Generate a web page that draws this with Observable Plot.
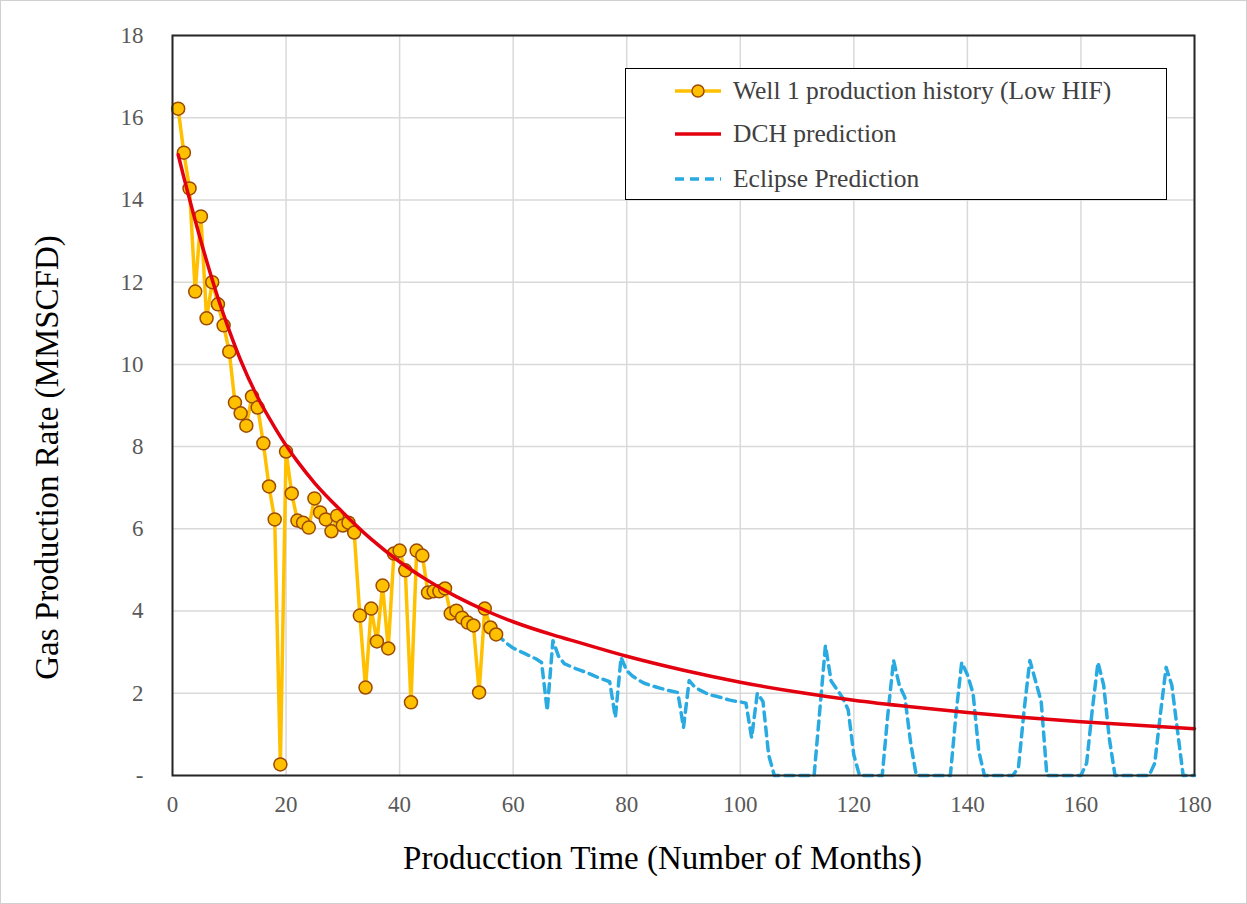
<!DOCTYPE html>
<html>
<head>
<meta charset="utf-8">
<script src="https://cdn.jsdelivr.net/npm/d3@7"></script>
<script src="https://cdn.jsdelivr.net/npm/@observablehq/plot@0.6"></script>
<style>
  html, body { margin: 0; padding: 0; background: #fff; }
  #wrap { position: relative; width: 1247px; height: 904px; }
  #legend { position: absolute; left: 625px; top: 68px; width: 540px; height: 130px;
    border: 1.5px solid #000; background: #fff; font-family: "Liberation Serif", serif;
    font-size: 25.5px; color: #404040; }
  .row { position: absolute; left: 48px; height: 30px; display: flex; align-items: center; white-space: nowrap; }
  .row svg { margin-right: 11px; }
  #frameborder { position: absolute; left: 0; top: 0; width: 1245px; height: 902px; border: 1px solid #d0d0d0; pointer-events: none; }
</style>
</head>
<body>
<div id="wrap">
  <div id="chart"></div>
  <div id="legend">
    <div class="row" style="top:7px">
      <svg width="48" height="20"><line x1="1" y1="10" x2="47" y2="10" stroke="#FFC000" stroke-width="3.5"/><circle cx="24" cy="10" r="6" fill="#FFC000" stroke="#9C4A00" stroke-width="1.5"/></svg>
      <span>Well 1 production history (Low HIF)</span>
    </div>
    <div class="row" style="top:50px">
      <svg width="48" height="20"><line x1="1" y1="10" x2="47" y2="10" stroke="#E3000F" stroke-width="3.5"/></svg>
      <span>DCH prediction</span>
    </div>
    <div class="row" style="top:95px">
      <svg width="48" height="20"><line x1="1" y1="10" x2="47" y2="10" stroke="#29ABE2" stroke-width="3.5" stroke-dasharray="9,6"/></svg>
      <span>Eclipse Prediction</span>
    </div>
  </div>
  <div id="frameborder"></div>
</div>
<script>
// Well 1 production history (month, MMSCFD)
const histMonths = d3.range(1, 58);
const histRates = [
  16.22, 15.15, 14.28, 11.77, 13.60, 11.12, 12.00, 11.46, 10.95, 10.31,
  9.07, 8.81, 8.51, 9.22, 8.95, 8.08, 7.03, 6.23, 0.27, 7.88,
  6.86, 6.20, 6.15, 6.03, 6.74, 6.40, 6.23, 5.94, 6.32, 6.08,
  6.15, 5.91, 3.89, 2.14, 4.06, 3.26, 4.62, 3.09, 5.40, 5.47,
  4.99, 1.78, 5.47, 5.35, 4.45, 4.48, 4.48, 4.55, 3.94, 4.01,
  3.84, 3.72, 3.65, 2.02, 4.06, 3.60, 3.43
];

// DCH prediction (month, MMSCFD)
const dchMonths = [1, 2, 3, 4, 5, 6, 8, 10, 12, 15, 18, 20, 22, 25, 30, 35, 40, 45, 50, 55, 60, 67, 70, 80, 90, 100, 110, 120, 130, 140, 150, 160, 170, 180];
const dchRates  = [15.1, 14.55, 14.02, 13.5, 13.0, 12.52, 11.62, 10.82, 10.1, 9.2, 8.47, 8.03, 7.64, 7.12, 6.4, 5.75, 5.2, 4.74, 4.35, 4.02, 3.74, 3.42, 3.3, 2.9, 2.56, 2.27, 2.03, 1.83, 1.67, 1.53, 1.41, 1.31, 1.22, 1.14];

// Eclipse prediction (month 57..180, MMSCFD)
const eclMonths = d3.range(57, 181);
const eclRates = [
  3.43, 3.32, 3.20, 3.10, 3.03, 2.97, 2.90, 2.84, 2.75, 1.58,   // 57-66
  3.28, 2.90, 2.72, 2.66, 2.60, 2.55, 2.50, 2.44, 2.38, 2.33,   // 67-76
  2.28, 1.41, 2.87, 2.55, 2.42, 2.33, 2.25, 2.20, 2.16, 2.12,   // 77-86
  2.08, 2.05, 2.02, 1.17, 2.31, 2.15, 2.07, 2.00, 1.95, 1.92,   // 87-96
  1.88, 1.84, 1.81, 1.79, 1.76, 0.92, 2.00, 1.80, 0.50, 0.00,   // 97-106
  0, 0, 0, 0, 0, 0, 0, 1.58, 3.16, 2.30,                        // 107-116
  2.10, 1.90, 1.60, 0.50, 0, 0, 0, 0, 0, 1.50,                  // 117-126
  2.80, 2.20, 1.90, 0.80, 0, 0, 0, 0, 0, 0,                     // 127-136
  0, 1.50, 2.75, 2.45, 2.00, 0.60, 0, 0, 0, 0,                  // 137-146
  0, 0, 0.20, 1.60, 2.80, 2.30, 1.80, 0, 0, 0,                  // 147-156
  0, 0, 0, 0, 0.30, 1.60, 2.75, 2.20, 0.90, 0,                  // 157-166
  0, 0, 0, 0, 0, 0, 0.30, 1.50, 2.63, 2.20,                     // 167-176
  1.10, 0, 0, 0                                                 // 177-180
];

const xTicks = [0, 20, 40, 60, 80, 100, 120, 140, 160, 180];
const yTicks = [0, 2, 4, 6, 8, 10, 12, 14, 16, 18];
const xTitle = "Producction Time (Number of Months)";
const yTitle = "Gas Production Rate (MMSCFD)";

const hist = histMonths.map((m, i) => ({m, v: histRates[i]}));
const dch = dchMonths.map((m, i) => ({m, v: dchRates[i]}));
const ecl = eclMonths.map((m, i) => ({m, v: eclRates[i]}));

const chart = Plot.plot({
  width: 1247,
  height: 904,
  marginLeft: 172,
  marginRight: 53,
  marginTop: 35,
  marginBottom: 129,
  style: { fontFamily: "'Liberation Serif', serif", fontSize: "23px", background: "#fff" },
  x: { domain: [0, 180] },
  y: { domain: [0, 18] },
  marks: [
    Plot.gridX(xTicks, { stroke: "#d9d9d9", strokeOpacity: 1, strokeWidth: 1.5 }),
    Plot.gridY(yTicks, { stroke: "#d9d9d9", strokeOpacity: 1, strokeWidth: 1.5 }),
    Plot.line(ecl, { x: "m", y: "v", stroke: "#29ABE2", strokeWidth: 3.5, strokeDasharray: "9,6" }),
    Plot.line(hist, { x: "m", y: "v", stroke: "#FFC000", strokeWidth: 3.5 }),
    Plot.dot(hist, { x: "m", y: "v", r: 6.5, fill: "#FFC000", stroke: "#9C4A00", strokeWidth: 1.5 }),
    Plot.line(dch, { x: "m", y: "v", stroke: "#E3000F", strokeWidth: 3.5, curve: "monotone-x" }),
    Plot.frame({ stroke: "#262626", strokeWidth: 2 }),
    Plot.axisX(xTicks, { tickSize: 0, tickPadding: 20, label: null, fill: "#595959", fontSize: 23 }),
    Plot.axisY(yTicks, { tickSize: 0, tickPadding: 29, label: null, fill: "#595959", fontSize: 23,
      tickFormat: d => d === 0 ? "-" : String(d) }),
    Plot.text([xTitle], { frameAnchor: "bottom", lineAnchor: "middle", dy: 83, dx: -21, fontSize: 33, fill: "#000" }),
    Plot.text([yTitle], { frameAnchor: "left", textAnchor: "middle", lineAnchor: "middle", dx: -125, dy: 52, rotate: -90, fontSize: 33, fill: "#000" })
  ]
});
document.getElementById("chart").appendChild(chart);
</script>
</body>
</html>
